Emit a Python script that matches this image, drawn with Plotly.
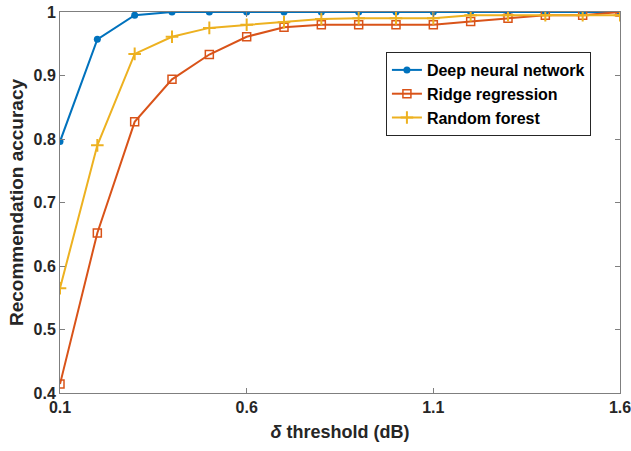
import plotly.graph_objects as go

thresholds = [0.1, 0.2, 0.3, 0.4, 0.5, 0.6, 0.7, 0.8, 0.9, 1.0, 1.1, 1.2, 1.3, 1.4, 1.5, 1.6]
dnn = [0.796, 0.957, 0.995, 1.0, 1.0, 1.0, 1.0, 1.0, 1.0, 1.0, 1.0, 1.0, 1.0, 1.0, 1.0, 1.0]
ridge = [0.414, 0.652, 0.827, 0.894, 0.933, 0.961, 0.976, 0.980, 0.980, 0.980, 0.980, 0.985, 0.990, 0.995, 0.995, 1.0]
rf = [0.565, 0.790, 0.934, 0.961, 0.975, 0.980, 0.984, 0.989, 0.990, 0.990, 0.990, 0.995, 0.995, 0.995, 0.995, 0.995]

x_ticks = [0.1, 0.6, 1.1, 1.6]
y_ticks = [0.4, 0.5, 0.6, 0.7, 0.8, 0.9, 1.0]
y_ticklabels = ["0.4", "0.5", "0.6", "0.7", "0.8", "0.9", "1"]

FONT = "Liberation Sans, Arial, sans-serif"

fig = go.Figure()
fig.add_trace(go.Scatter(x=thresholds, y=dnn, mode="lines+markers", name="<b>Deep neural network</b>",
                         line=dict(color="#0072BD", width=2),
                         marker=dict(symbol="circle", size=7, color="#0072BD")))
fig.add_trace(go.Scatter(x=thresholds, y=ridge, mode="lines+markers", name="<b>Ridge regression</b>",
                         line=dict(color="#D95319", width=2),
                         marker=dict(symbol="square-open", size=8, color="#D95319", line=dict(width=1.5))))
fig.add_trace(go.Scatter(x=thresholds, y=rf, mode="lines+markers", name="<b>Random forest</b>",
                         line=dict(color="#EDB120", width=2),
                         marker=dict(symbol="cross-thin-open", size=9, color="#EDB120", line=dict(width=2, color="#EDB120"))))

axis_common = dict(showline=True, linecolor="#7f7f7f", linewidth=1, mirror="ticks",
                   ticks="inside", ticklen=5, tickcolor="#7f7f7f", showgrid=False, zeroline=False,
                   automargin=False, ticklabeloverflow="allow",
                   tickfont=dict(family=FONT, size=16, color="#262626"))

fig.update_xaxes(range=[0.1, 1.6], tickvals=x_ticks, ticktext=["<b>%g</b>" % v for v in x_ticks],
                 title=dict(text="<b><i>δ</i> threshold (dB)</b>", font=dict(family=FONT, size=18, color="#262626"), standoff=10),
                 **axis_common)
fig.update_yaxes(range=[0.4, 1.0], tickvals=y_ticks, ticktext=["<b>%s</b>" % t for t in y_ticklabels],
                 title=dict(text="<b>Recommendation accuracy</b>", font=dict(family=FONT, size=19, color="#262626"), standoff=4),
                 **axis_common)

fig.update_layout(
    width=631, height=451,
    margin=dict(l=60, r=11, t=12, b=58, autoexpand=False),
    paper_bgcolor="white", plot_bgcolor="white",
    font=dict(family=FONT, color="#262626"),
    legend=dict(x=0.582, y=0.895, xanchor="left", yanchor="top",
                bordercolor="#262626", borderwidth=1, bgcolor="white",
                font=dict(family=FONT, size=16, color="#000000"),
                tracegroupgap=0, itemwidth=30),
    showlegend=True,
)

fig.write_html("out.html")
